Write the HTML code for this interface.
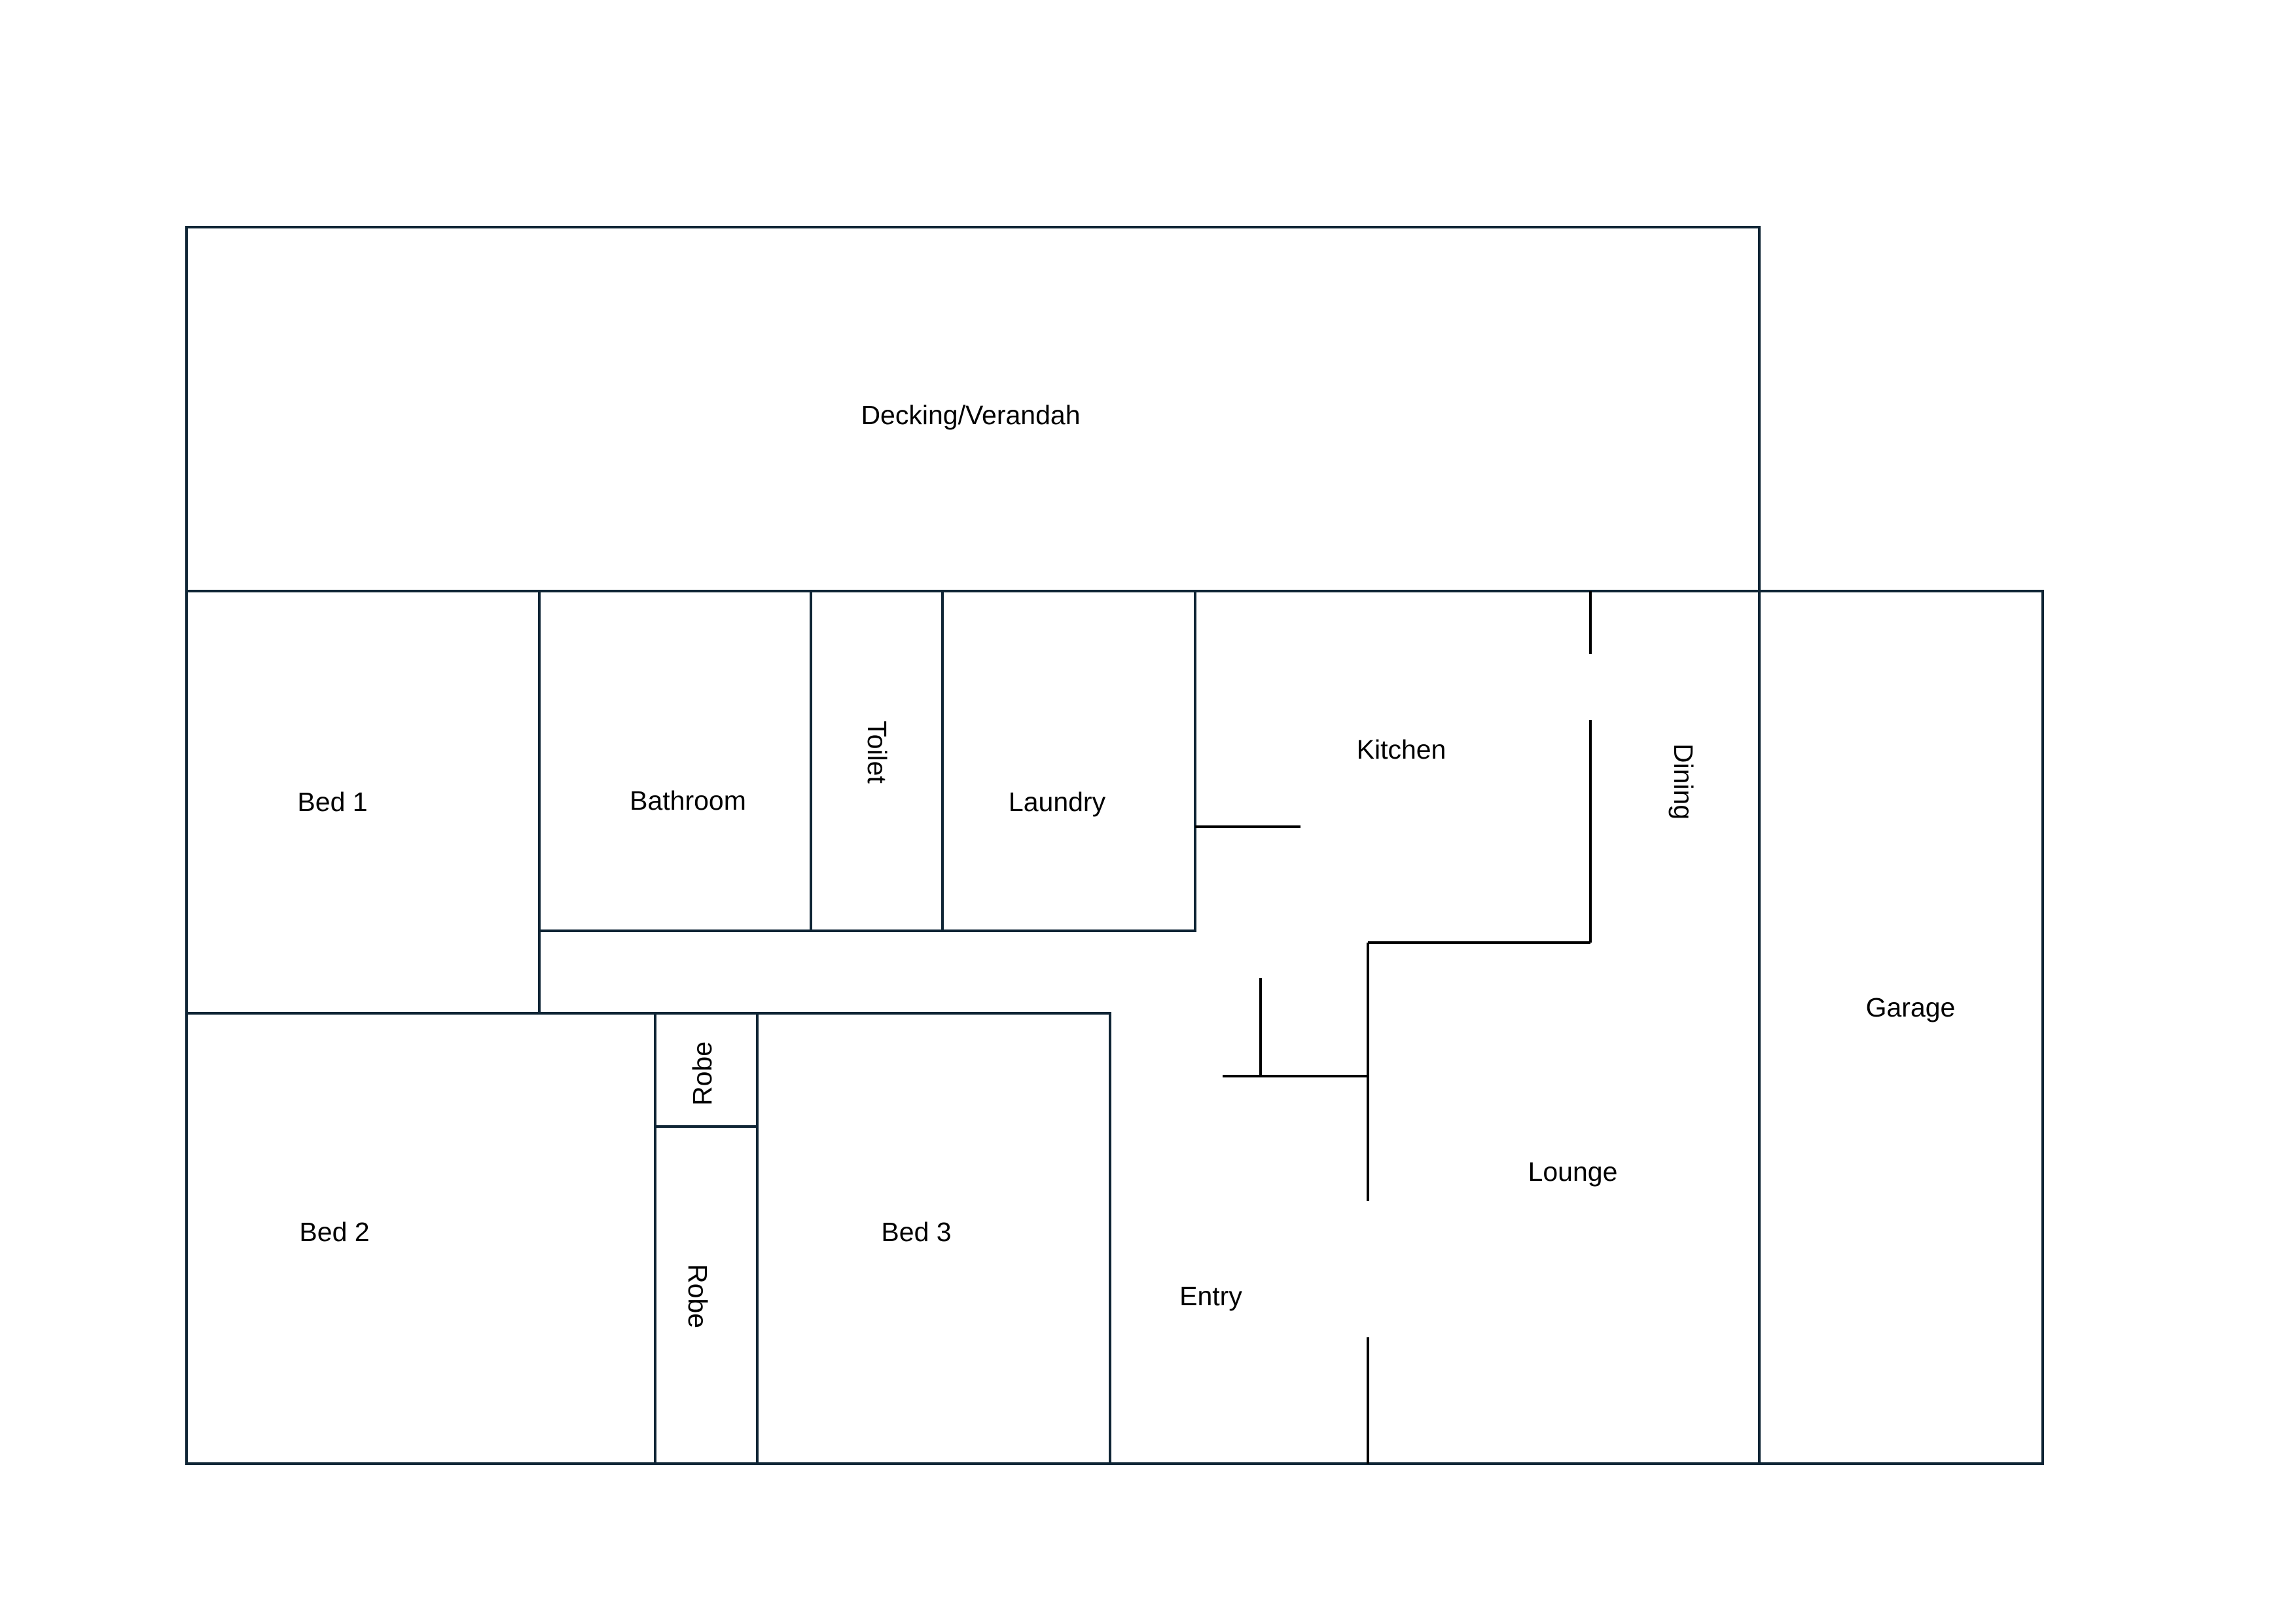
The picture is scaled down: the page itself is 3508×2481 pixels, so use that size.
<!DOCTYPE html>
<html><head><meta charset="utf-8"><style>
html,body{margin:0;padding:0;background:#fff;}
svg{display:block;}
text{font-family:"Liberation Sans",sans-serif;font-size:41px;fill:#000;text-anchor:middle;dominant-baseline:central;}
</style></head><body>
<svg width="3508" height="2481" viewBox="0 0 3508 2481" xmlns="http://www.w3.org/2000/svg">
<rect width="3508" height="2481" fill="#fff"/>
<g fill="none" stroke="#0f2535" stroke-width="4">
<rect x="285" y="347" width="2403" height="556"/>
<rect x="285" y="903" width="539" height="645"/>
<rect x="824" y="903" width="415" height="519"/>
<rect x="1239" y="903" width="201" height="519"/>
<rect x="1440" y="903" width="386" height="519"/>
<line x1="824" y1="1422" x2="824" y2="1548"/>
<rect x="285" y="1548" width="716" height="688"/>
<rect x="1001" y="1548" width="156" height="173"/>
<rect x="1001" y="1721" width="156" height="515"/>
<rect x="1157" y="1548" width="539" height="688"/>
<line x1="1696" y1="2236" x2="2688" y2="2236"/>
<line x1="1826" y1="903" x2="2688" y2="903"/>
<rect x="2688" y="903" width="433" height="1333"/>
</g>
<g stroke="#000" stroke-width="4" fill="none">
<line x1="2430" y1="903" x2="2430" y2="999"/>
<line x1="2430" y1="1100" x2="2430" y2="1440"/>
<line x1="1826" y1="1263" x2="1987" y2="1263"/>
<line x1="2090" y1="1440" x2="2430" y2="1440"/>
<line x1="2090" y1="1440" x2="2090" y2="1835"/>
<line x1="2090" y1="2043" x2="2090" y2="2236"/>
<line x1="1868" y1="1644" x2="2090" y2="1644"/>
<line x1="1926" y1="1494" x2="1926" y2="1644"/>
</g>
<text x="1483" y="634">Decking/Verandah</text>
<text x="508" y="1225">Bed 1</text>
<text x="1051" y="1223">Bathroom</text>
<text transform="translate(1340,1149) rotate(90)">Toilet</text>
<text x="1615" y="1225">Laundry</text>
<text x="2141" y="1145">Kitchen</text>
<text transform="translate(2572,1194) rotate(90)">Dining</text>
<text x="2919" y="1539">Garage</text>
<text x="2403" y="1790">Lounge</text>
<text x="1850" y="1980">Entry</text>
<text x="511" y="1882">Bed 2</text>
<text x="1400" y="1882">Bed 3</text>
<text transform="translate(1073,1640) rotate(-90)">Robe</text>
<text transform="translate(1066,1980) rotate(90)">Robe</text>
</svg>
</body></html>
